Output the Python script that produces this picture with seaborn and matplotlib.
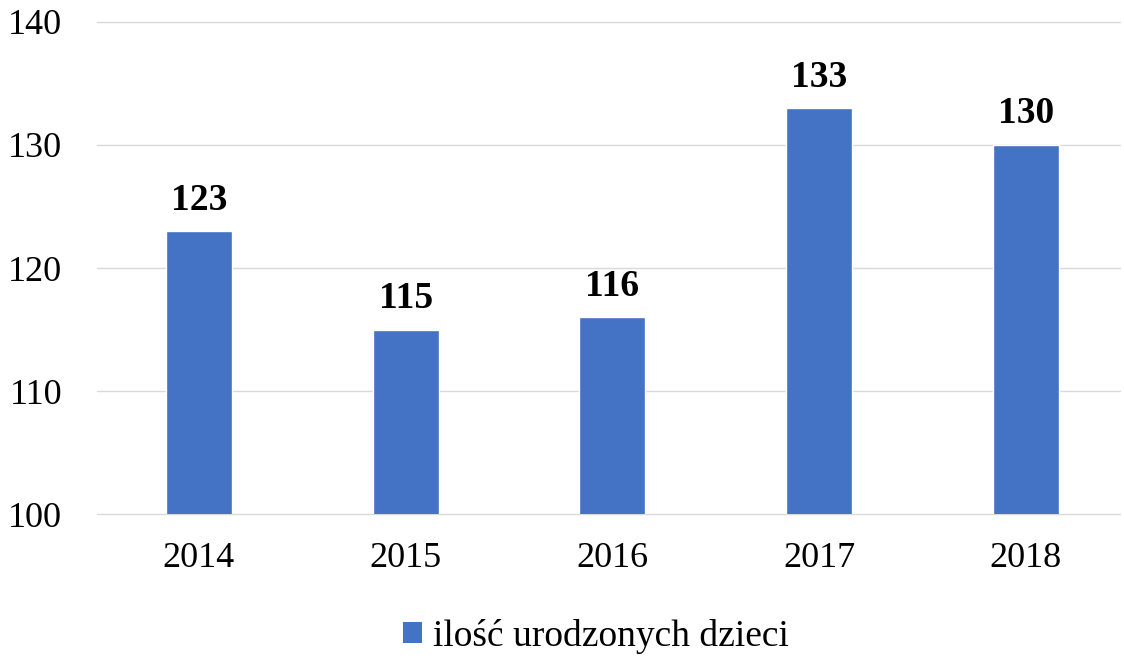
import matplotlib
matplotlib.use("Agg")
import matplotlib.pyplot as plt
import seaborn as sns
import pandas as pd
from matplotlib.patches import Patch

years = ["2014", "2015", "2016", "2017", "2018"]
births = [123, 115, 116, 133, 130]
series_name = "ilość urodzonych dzieci"

df = pd.DataFrame({"rok": years, "urodzenia": births})

sns.set_style("white")
plt.rcParams['font.family'] = ['Liberation Serif', 'DejaVu Serif']
plt.rcParams['text.color'] = 'black'

fig = plt.figure(figsize=(11.24, 6.58), dpi=100)
ax = fig.add_axes([0.0863, 0.2188, 0.9101, 0.7478])

sns.barplot(data=df, x="rok", y="urodzenia", color="#4472C4", width=0.32,
            saturation=1, ax=ax, zorder=3)

ax.set_ylim(100, 140)
ax.set_xlim(-0.493, 4.455)
ax.set_yticks(range(100, 141, 10))
ax.grid(axis="y", color="#D9D9D9", linewidth=1, zorder=0)
for line in ax.get_ygridlines():
    line.set_clip_on(False)
for s in ax.spines.values():
    s.set_visible(False)
ax.set_xlabel("")
ax.set_ylabel("")
ax.tick_params(axis="both", labelsize=26, length=0, labelcolor="black")
ax.tick_params(axis="x", pad=20)
ax.tick_params(axis="y", pad=25)

for i, v in enumerate(births):
    ax.text(i, v + 1.1, str(v), ha="center", va="bottom",
            fontsize=27, fontweight="bold", color="black")

handle = Patch(facecolor="#4472C4", edgecolor="none")
fig.legend([handle], [series_name], loc="center", bbox_to_anchor=(0.53, 0.033),
           frameon=False, fontsize=27, handlelength=0.5, handleheight=0.5,
           handletextpad=0.3, labelcolor="black")

fig.savefig("out.png", dpi=100)
